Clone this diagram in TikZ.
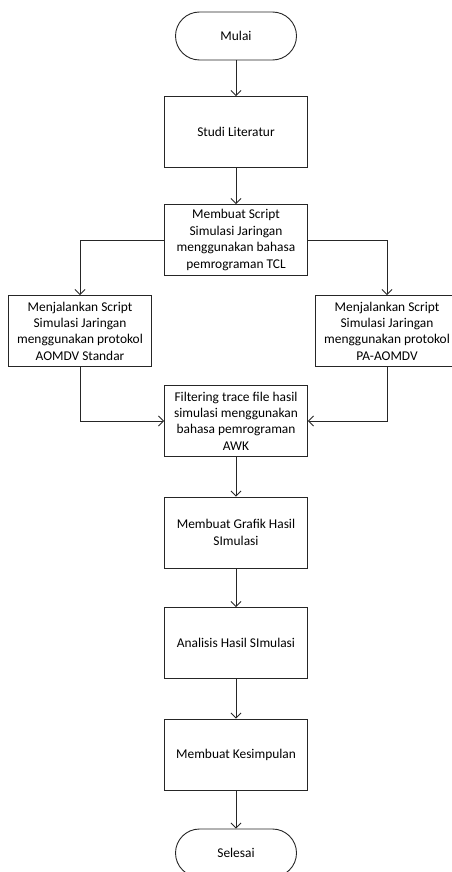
\documentclass[tikz,border=0pt]{standalone}
\usepackage{fontspec}
\setmainfont{Carlito}
\usetikzlibrary{arrows.meta}

\begin{document}
\begin{tikzpicture}[x=1pt, y=-1pt,
    garis/.style={draw=black!85, line width=0.9pt},
    kotak/.style={garis, rectangle, minimum width=143pt, minimum height=71pt,
        align=center, inner sep=2pt, font=\fontsize{13.4}{16.4}\selectfont},
    terminal/.style={kotak, minimum width=121pt, minimum height=48pt, rounded corners=24pt},
    panah/.style={garis, -{Straight Barb[length=5pt,width=10pt]}}]
    \useasboundingbox (0,0) rectangle (452,872);

    \node[terminal] (mulai) at (236,36) {Mulai};
    \node[kotak] (studi) at (236,132) {Studi Literatur};
    \node[kotak] (script) at (236,240) {Membuat Script\\Simulasi Jaringan\\menggunakan bahasa\\pemrograman TCL};
    \node[kotak] (kiri) at (80,331) {Menjalankan Script\\Simulasi Jaringan\\menggunakan protokol\\AOMDV Standar};
    \node[kotak] (kanan) at (387,331) {Menjalankan Script\\Simulasi Jaringan\\menggunakan protokol\\PA-AOMDV};
    \node[kotak] (filter) at (236,421) {Filtering trace file hasil\\simulasi menggunakan\\bahasa pemrograman\\AWK};
    \node[kotak] (grafik) at (236,532.5) {Membuat Grafik Hasil\\SImulasi};
    \node[kotak] (analisis) at (236,643) {Analisis Hasil SImulasi};
    \node[kotak] (simpul) at (236,754.5) {Membuat Kesimpulan};
    \node[terminal] (selesai) at (236,853) {Selesai};

    % alur utama
    \foreach \a/\b in {mulai/studi, studi/script, filter/grafik, grafik/analisis, analisis/simpul, simpul/selesai}
        \draw[panah] (\a) -- (\b);

    % cabang kiri dan kanan
    \draw[panah] (script.west) -| (kiri.north);
    \draw[panah] (script.east) -| (kanan.north);
    \draw[panah] (kiri.south) |- (filter.west);
    \draw[panah] (kanan.south) |- (filter.east);
\end{tikzpicture}
\end{document}
